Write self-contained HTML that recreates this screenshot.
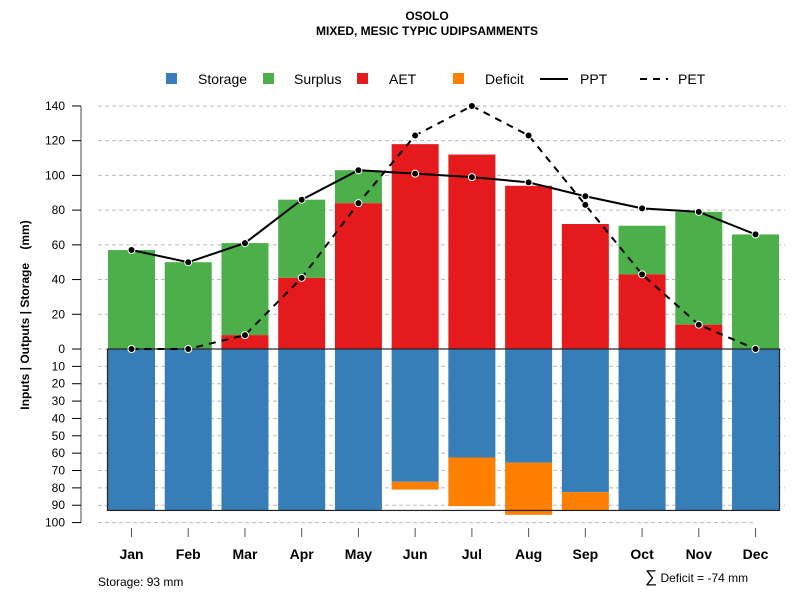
<!DOCTYPE html>
<html><head><meta charset="utf-8"><style>
body{margin:0;background:#fff;}
svg{font-family:"Liberation Sans",sans-serif;}
</style></head><body>
<svg id="c" width="800" height="600" xmlns="http://www.w3.org/2000/svg">
<text x="427" y="20" text-anchor="middle" font-size="12" font-weight="bold">OSOLO</text>
<text x="427" y="35" text-anchor="middle" font-size="12" font-weight="bold">MIXED, MESIC TYPIC UDIPSAMMENTS</text>
<g font-size="14">
<rect x="166" y="73" width="11" height="11" fill="#377eb8"/><text x="198" y="84">Storage</text>
<rect x="263" y="73" width="11" height="11" fill="#4daf4a"/><text x="294" y="84">Surplus</text>
<rect x="357" y="73" width="11" height="11" fill="#e41a1c"/><text x="389" y="84">AET</text>
<rect x="453" y="73" width="11" height="11" fill="#ff7f00"/><text x="485" y="84">Deficit</text>
<line x1="540" y1="79" x2="568" y2="79" stroke="#000" stroke-width="2"/><text x="580" y="84">PPT</text>
<line x1="640" y1="79" x2="668" y2="79" stroke="#000" stroke-width="2" stroke-dasharray="7,6"/><text x="678" y="84">PET</text>
</g>
<text transform="translate(29,315) rotate(-90)" text-anchor="middle" font-size="12" font-weight="bold" style="white-space:pre">Inputs | Outputs | Storage    (mm)</text>
<text x="98" y="586" font-size="12">Storage: 93 mm</text>
<text x="645" y="582" font-size="12"><tspan font-size="17">∑</tspan> Deficit = -74 mm</text>
<g id="grid"></g><g id="bars"></g><g id="lines"></g><g id="axes"></g>
</svg>
<script>
const months=["Jan","Feb","Mar","Apr","May","Jun","Jul","Aug","Sep","Oct","Nov","Dec"];
const aet=[0,0,8,41,84,118,112,94,72,43,14,0];
const surplusTop=[57,50,61,86,103,118,112,94,72,71,79,66];
const storageDepth=[93,93,93,93,93,76.5,62.5,65.5,82.5,93,93,93];
const deficitEnd=[93,93,93,93,93,81,90.5,95.5,93,93,93,93];
const ppt=[57,50,61,86,103,101,99,96,88,81,79,66];
const pet=[0,0,8,41,84,123,140,123,83,43,14,0];
const upTicks=[0,20,40,60,80,100,120,140];
const downTicks=[10,20,30,40,50,60,70,80,90,100];
const NS="http://www.w3.org/2000/svg";
const k=1.736, y0=349;
const yUp=v=>y0-v*k, yDn=v=>y0+v*k;
const xc=i=>131.5+i*56.73, bw=47;
function mk(t,a,p){const e=document.createElementNS(NS,t);for(const q in a)e.setAttribute(q,a[q]);document.getElementById(p).appendChild(e);return e;}
upTicks.forEach(v=>{const g=mk('line',{x1:98,x2:785,y1:yUp(v),y2:yUp(v),stroke:'#bbb','stroke-dasharray':'4,3'},'grid');});
downTicks.forEach(v=>{const g=mk('line',{x1:98,x2:v==100?755:785,y1:yDn(v),y2:yDn(v),stroke:'#bbb','stroke-dasharray':'4,3'},'grid');});
months.forEach((m,i)=>{
 const x=xc(i)-bw/2;
 let r=mk('rect',{x:x,y:yUp(surplusTop[i]),width:bw,height:(surplusTop[i]-aet[i])*k,fill:'#4daf4a'},'bars');
 
 r=mk('rect',{x:x,y:yUp(aet[i]),width:bw,height:aet[i]*k,fill:'#e41a1c'},'bars');
 
 r=mk('rect',{x:x,y:y0,width:bw,height:storageDepth[i]*k,fill:'#377eb8'},'bars');
 
 if(deficitEnd[i]>storageDepth[i]+0.1&&storageDepth[i]<93){
  r=mk('rect',{x:x,y:yDn(storageDepth[i]),width:bw,height:(deficitEnd[i]-storageDepth[i])*k,fill:'#ff7f00'},'bars');
  
 }
});
let L=mk('rect',{x:107.5,y:y0,width:672,height:93*k,fill:'none',stroke:'#222','stroke-width':1.2},'bars');

function series(vals,dash,name){
 const p=mk('polyline',{points:vals.map((v,i)=>xc(i)+','+yUp(v)).join(' '),fill:'none',stroke:'#000','stroke-width':2,'stroke-dasharray':dash},'lines');
 
 vals.forEach((v,i)=>{const c=mk('circle',{cx:xc(i),cy:yUp(v),r:3.5,fill:'#000',stroke:'#fff','stroke-width':1},'lines');
 });
}
series(ppt,'none','ppt');series(pet,'7,6','pet');
let ax=mk('line',{x1:81,x2:81,y1:yUp(140),y2:yDn(100),stroke:'#888','stroke-width':1.5},'axes');

function tick(y,lab){const t=mk('line',{x1:72,x2:81,y1:y,y2:y,stroke:'#000'},'axes');
 const s=mk('text',{x:65,y:y+4,'text-anchor':'end','font-size':12},'axes');s.textContent=lab;}
upTicks.forEach(v=>tick(yUp(v),v));downTicks.forEach(v=>tick(yDn(v),v));
months.forEach((m,i)=>{const t=mk('line',{x1:xc(i),x2:xc(i),y1:528,y2:537,stroke:'#555'},'axes');
 const s=mk('text',{x:xc(i),y:559,'text-anchor':'middle','font-size':14,'font-weight':'bold'},'axes');s.textContent=m;});
</script>
</body></html>
